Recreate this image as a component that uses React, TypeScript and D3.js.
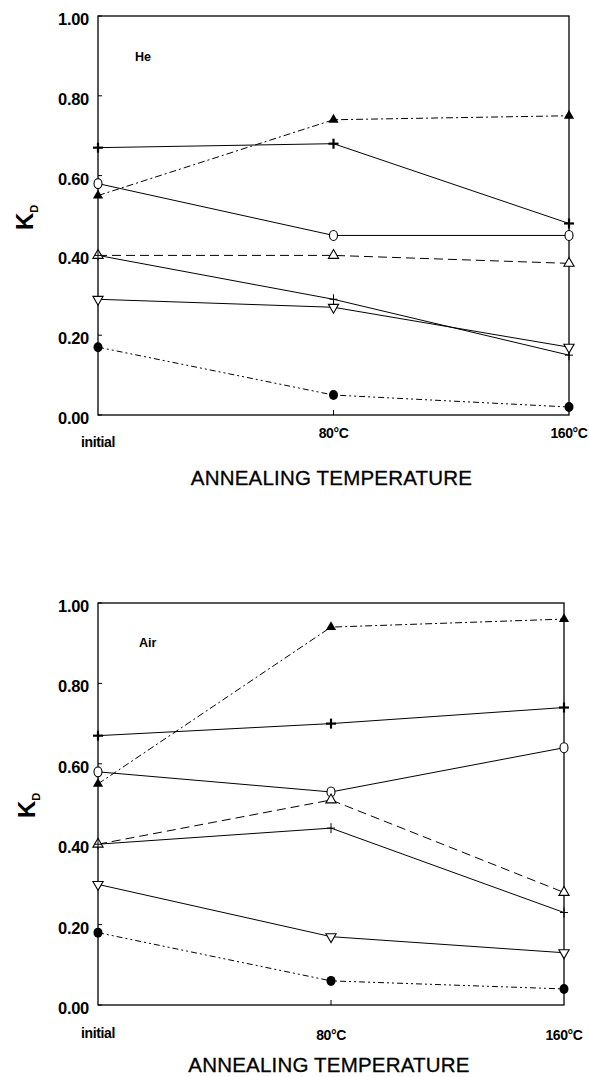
import React from 'react';
import * as d3 from 'd3';

// x categories and y ticks
const categories = ['initial', '80°C', '160°C'];
const yTicks = [0, 0.2, 0.4, 0.6, 0.8, 1.0];

// He annealing
const heBoldPlus = [0.67, 0.68, 0.48];
const heFilledTri = [0.55, 0.74, 0.75];
const heOpenCircle = [0.58, 0.45, 0.45];
const heOpenTri = [0.40, 0.40, 0.38];
const heThinPlus = [0.40, 0.29, 0.15];
const heOpenInvTri = [0.29, 0.27, 0.17];
const heFilledCircle = [0.17, 0.05, 0.02];

// Air annealing
const airBoldPlus = [0.67, 0.70, 0.74];
const airFilledTri = [0.55, 0.94, 0.96];
const airOpenCircle = [0.58, 0.53, 0.64];
const airOpenTri = [0.40, 0.51, 0.28];
const airThinPlus = [0.40, 0.44, 0.23];
const airOpenInvTri = [0.30, 0.17, 0.13];
const airFilledCircle = [0.18, 0.06, 0.04];

const FONT = '"Liberation Sans", Arial, sans-serif';

// line style + marker for each series, same order in both panels
const seriesStyles = [
  { marker: 'boldPlus', dash: null },
  { marker: 'filledTri', dash: '7,3,2,3' },
  { marker: 'openCircle', dash: null },
  { marker: 'openTri', dash: '9,5' },
  { marker: 'thinPlus', dash: null },
  { marker: 'openInvTri', dash: null },
  { marker: 'filledCircle', dash: '6,3,2,3,2,3' },
];

function Marker({ type, x, y }) {
  const tri = d3.symbol(d3.symbolTriangle, 45)();
  switch (type) {
    case 'boldPlus':
      return (
        <g transform={`translate(${x},${y})`} stroke="#000" strokeWidth={2.2}>
          <line x1={-5} x2={5} y1={0} y2={0} />
          <line x1={0} x2={0} y1={-5} y2={5} />
        </g>
      );
    case 'thinPlus':
      return (
        <g transform={`translate(${x},${y})`} stroke="#000" strokeWidth={1}>
          <line x1={-4} x2={4} y1={0} y2={0} />
          <line x1={0} x2={0} y1={-5} y2={5} />
        </g>
      );
    case 'filledTri':
      return <path d={tri} transform={`translate(${x},${y})`} fill="#000" />;
    case 'openTri':
      return <path d={tri} transform={`translate(${x},${y})`} fill="#fff" stroke="#000" strokeWidth={1.1} />;
    case 'openInvTri':
      return <path d={tri} transform={`translate(${x},${y}) rotate(180)`} fill="#fff" stroke="#000" strokeWidth={1.1} />;
    case 'openCircle':
      return <ellipse cx={x} cy={y} rx={4} ry={5} fill="#fff" stroke="#000" strokeWidth={1.1} />;
    case 'filledCircle':
      return <ellipse cx={x} cy={y} rx={4.5} ry={5} fill="#000" />;
    default:
      return null;
  }
}

function Panel({ frame, series, label, labelPos, catLabelY, titleY, kPos }) {
  const x = d3.scalePoint().domain(categories).range([frame.left, frame.right]);
  const y = d3.scaleLinear().domain([0, 1]).range([frame.bottom, frame.top]);
  const line = d3.line().x((d, i) => x(categories[i])).y((d) => y(d));

  return (
    <g>
      <rect
        x={frame.left}
        y={frame.top}
        width={frame.right - frame.left}
        height={frame.bottom - frame.top}
        fill="none"
        stroke="#000"
        strokeWidth={1.3}
      />
      {yTicks.map((t) => (
        <g key={t}>
          <line x1={frame.left} x2={frame.left + 4} y1={y(t)} y2={y(t)} stroke="#000" />
          <text
            x={frame.left - 9}
            y={y(t) + 9}
            textAnchor="end"
            fontFamily={FONT}
            fontWeight="bold"
            fontSize={16.5}
            letterSpacing={-0.3}
          >
            {t.toFixed(2)}
          </text>
        </g>
      ))}
      <line x1={x(categories[1])} x2={x(categories[1])} y1={frame.bottom} y2={frame.bottom - 5} stroke="#000" />
      {categories.map((c, i) => (
        <text
          key={c}
          x={x(c)}
          y={catLabelY[i]}
          textAnchor="middle"
          fontFamily={FONT}
          fontWeight="bold"
          fontSize={14}
          letterSpacing={-0.4}
        >
          {c}
        </text>
      ))}
      <text x={labelPos[0]} y={labelPos[1]} fontFamily={FONT} fontWeight="bold" fontSize={12.5}>
        {label}
      </text>
      <text
        transform={`translate(${kPos[0]},${kPos[1]}) rotate(-90)`}
        fontFamily={FONT}
        fontWeight="bold"
        fontSize={24}
      >
        K
        <tspan fontSize={11} dy={5}>D</tspan>
      </text>
      <text
        x={(frame.left + frame.right) / 2 - 2}
        y={titleY}
        textAnchor="middle"
        fontFamily={FONT}
        fontSize={20.5}
        stroke="#000"
        strokeWidth={0.3}
        letterSpacing={0.2}
      >
        ANNEALING TEMPERATURE
      </text>
      {series.map((vals, si) => (
        <path
          key={`l${si}`}
          d={line(vals)}
          fill="none"
          stroke="#000"
          strokeWidth={1}
          strokeDasharray={seriesStyles[si].dash || undefined}
        />
      ))}
      {series.map((vals, si) =>
        vals.map((v, i) => (
          <Marker key={`m${si}-${i}`} type={seriesStyles[si].marker} x={x(categories[i])} y={y(v)} />
        ))
      )}
    </g>
  );
}

export default function App() {
  const heSeries = [heBoldPlus, heFilledTri, heOpenCircle, heOpenTri, heThinPlus, heOpenInvTri, heFilledCircle];
  const airSeries = [airBoldPlus, airFilledTri, airOpenCircle, airOpenTri, airThinPlus, airOpenInvTri, airFilledCircle];
  return (
    <svg
      width={589}
      height={1077}
      style={{ position: 'absolute', left: 0, top: 0, background: '#fff' }}
    >
      <Panel
        frame={{ left: 98, right: 569, top: 16, bottom: 415 }}
        series={heSeries}
        label="He"
        labelPos={[135, 61]}
        catLabelY={[447, 438, 438]}
        titleY={485}
        kPos={[33, 230]}
      />
      <Panel
        frame={{ left: 98, right: 564, top: 603, bottom: 1005 }}
        series={airSeries}
        label="Air"
        labelPos={[139, 647]}
        catLabelY={[1038, 1040, 1040]}
        titleY={1072}
        kPos={[35, 818]}
      />
    </svg>
  );
}
